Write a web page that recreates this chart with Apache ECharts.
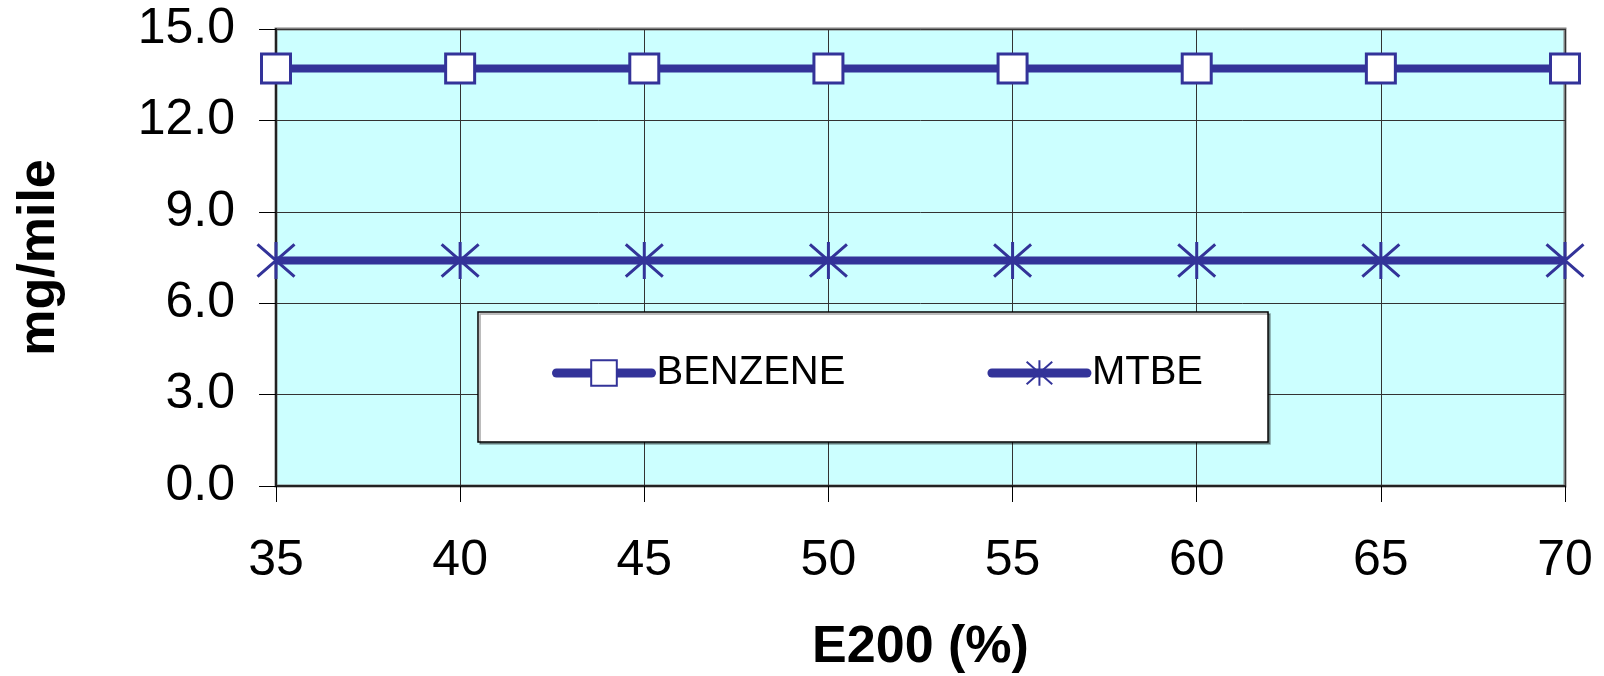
<!DOCTYPE html>
<html><head><meta charset="utf-8">
<script src="https://cdn.jsdelivr.net/npm/echarts@6/dist/echarts.min.js"></script>
<style>html,body{margin:0;padding:0;background:#fff}#c{width:1604px;height:676px}</style>
</head><body><div id="c"></div>
<script>
const e200 = [35, 40, 45, 50, 55, 60, 65, 70];
const benzene = [13.7, 13.7, 13.7, 13.7, 13.7, 13.7, 13.7, 13.7];
const mtbe = [7.4, 7.4, 7.4, 7.4, 7.4, 7.4, 7.4, 7.4];
const seriesNames = ['BENZENE', 'MTBE'];
const xTitle = 'E200 (%)';
const yTitle = 'mg/mile';

const asterisk = 'path://M0,-1L0,1M-0.87,-0.87L0.87,0.87M-0.87,0.87L0.87,-0.87';
const lineColor = '#333399';
const font = 'Liberation Sans, Arial, sans-serif';

const chart = echarts.init(document.getElementById('c'), null, {renderer: 'canvas'});
chart.setOption({
  animation: false,
  backgroundColor: '#fff',
  grid: {left: 276, right: 39, top: 29, bottom: 190, show: true, outerBoundsMode: 'none', containLabel: false,
    backgroundColor: '#CCFFFF', borderColor: '#808080', borderWidth: 3},
  xAxis: {
    type: 'value', min: 35, max: 70, interval: 5,
    name: xTitle, nameLocation: 'middle', nameGap: 136,
    nameTextStyle: {fontFamily: font, fontWeight: 'bold', fontSize: 52, color: '#000'},
    axisLine: {show: true, onZero: false, lineStyle: {color: '#222', width: 2}},
    axisTick: {show: true, length: 16, lineStyle: {color: '#000', width: 1}},
    axisLabel: {fontFamily: font, fontSize: 50, color: '#000', margin: 50},
    splitLine: {show: true, lineStyle: {color: '#333', width: 1}}
  },
  yAxis: {
    type: 'value', min: 0, max: 15, interval: 3,
    name: yTitle, nameLocation: 'middle', nameGap: 210, nameRotate: 90,
    nameTextStyle: {fontFamily: font, fontWeight: 'bold', fontSize: 52, color: '#000'},
    axisLine: {show: true, lineStyle: {color: '#222', width: 2}},
    axisTick: {show: true, length: 17, lineStyle: {color: '#000', width: 1}},
    axisLabel: {fontFamily: font, fontSize: 50, color: '#000', margin: 41,
      formatter: v => v.toFixed(1)},
    splitLine: {show: true, lineStyle: {color: '#333', width: 1}}
  },
  legend: {
    left: 478, top: 312,
    padding: [41, 65, 49, 74],
    itemGap: 142, itemWidth: 95, itemHeight: 32,
    backgroundColor: '#fff', borderColor: '#000', borderWidth: 1.5,
    shadowColor: 'rgba(0,0,0,0.35)', shadowOffsetX: 2, shadowOffsetY: 2,
    lineStyle: {width: 9, cap: 'round', color: lineColor},
    textStyle: {fontFamily: font, fontSize: 40, color: '#000', padding: [0, 0, 0, 0]},
    data: seriesNames
  },
  series: [
    {name: seriesNames[0], type: 'line', data: e200.map((x, i) => [x, benzene[i]]),
      symbol: 'rect', symbolSize: 29,
      lineStyle: {color: lineColor, width: 8},
      itemStyle: {color: '#fff', borderColor: lineColor, borderWidth: 3}},
    {name: seriesNames[1], type: 'line', data: e200.map((x, i) => [x, mtbe[i]]),
      symbol: asterisk, symbolSize: 37,
      lineStyle: {color: lineColor, width: 8},
      itemStyle: {color: lineColor, borderColor: lineColor, borderWidth: 3}}
  ]
});
</script></body></html>
